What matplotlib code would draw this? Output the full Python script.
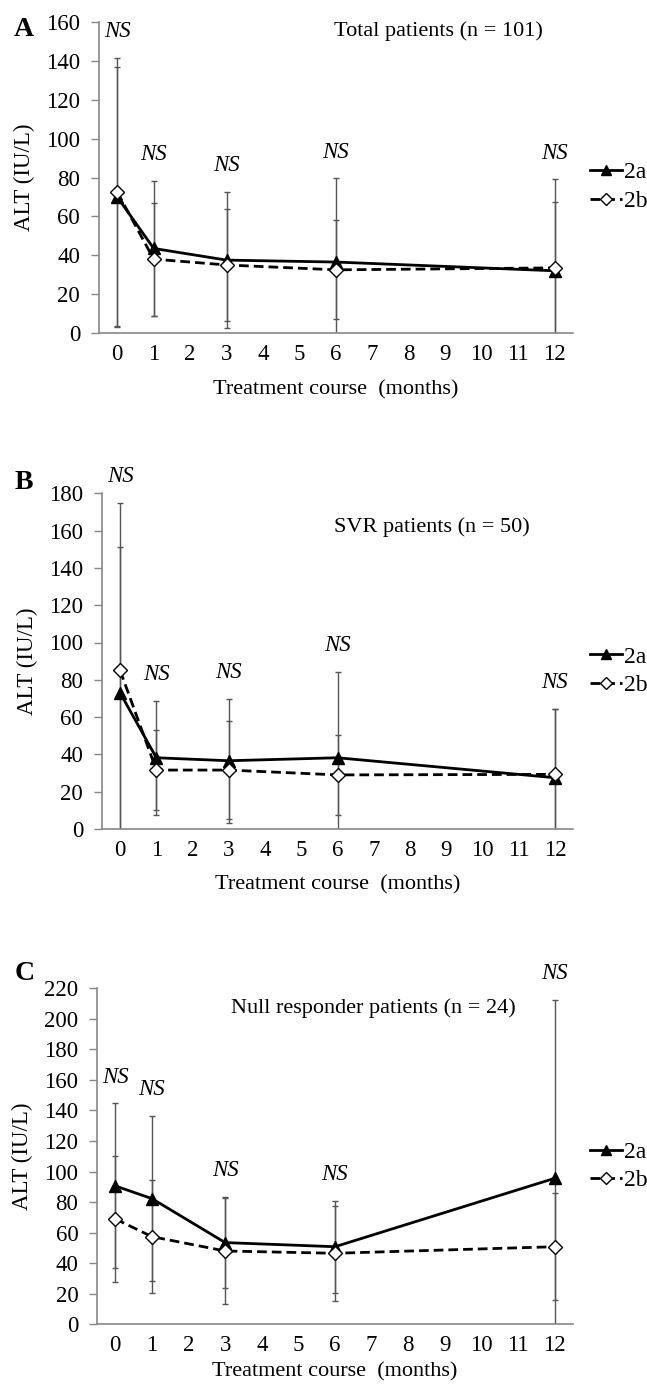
import matplotlib.pyplot as plt

plt.rcParams['font.family'] = ['Liberation Serif', 'DejaVu Serif']

# ---------- data (ALT, IU/L, mean and SD) ----------
months = [0, 1, 3, 6, 12]
x_ticks = list(range(13))

# A: total patients
a_2a = [70, 43.5, 37.5, 36.5, 32]
a_2a_sd = [67, 34.5, 35, 43, 47]
a_2b = [72.5, 38, 35, 32.5, 33.5]
a_2b_sd = [69, 29, 29, 25.5, 34]

# B: SVR patients
b_2a = [73, 38.2, 36.6, 38.2, 27.5]
b_2a_sd = [78, 30.6, 33.3, 46, 37]
b_2b = [85, 31.6, 31.6, 29, 29.3]
b_2b_sd = [90, 21.5, 26.5, 21.5, 35]

# C: null responder patients
c_2a = [90.6, 82.3, 53.5, 50.8, 95.6]
c_2a_sd = [54, 54, 30, 30, 117]
c_2b = [69, 57.4, 48, 46.5, 50.8]
c_2b_sd = [41, 37, 35, 31, 35]

panels = [
    dict(letter="A", title="Total patients (n = 101)", ymax=160,
         s2a=a_2a, e2a=a_2a_sd, s2b=a_2b, e2b=a_2b_sd,
         rect=[99/647, 1-333/1388, 474/647, 311/1388],
         title_xy=(8.8, 155.5), letter_y=1-30/1388, xlab_y=-0.151),
    dict(letter="B", title="SVR patients (n = 50)", ymax=180,
         s2a=b_2a, e2a=b_2a_sd, s2b=b_2b, e2b=b_2b_sd,
         rect=[102/647, 1-829/1388, 471/647, 335.7/1388],
         title_xy=(8.6, 162), letter_y=1-483/1388, xlab_y=-0.137),
    dict(letter="C", title="Null responder patients (n = 24)", ymax=220,
         s2a=c_2a, e2a=c_2a_sd, s2b=c_2b, e2b=c_2b_sd,
         rect=[97/647, 1-1324.3/1388, 476/647, 336/1388],
         title_xy=(7.05, 207), letter_y=1-973/1388, xlab_y=-0.113),
]

fig = plt.figure(figsize=(6.47, 13.88), dpi=100)

for p in panels:
    ax = fig.add_axes(p["rect"])

    # error bars first, behind the lines
    ax.errorbar(months, p["s2a"], yerr=p["e2a"], fmt="none", ecolor="#555555",
                elinewidth=1, capsize=2.5, capthick=1, zorder=1)
    ax.errorbar(months, p["s2b"], yerr=p["e2b"], fmt="none", ecolor="#555555",
                elinewidth=1, capsize=2.5, capthick=1, zorder=1)

    ax.plot(months, p["s2a"], color="black", lw=2, marker="^", markersize=9,
            markerfacecolor="black", label="2a", zorder=3)
    ax.plot(months, p["s2b"], color="black", lw=2, ls=(0, (3.5, 1.8)), marker="D",
            markersize=7.5, markerfacecolor="white", markeredgecolor="black",
            markeredgewidth=1, label="2b", zorder=4)

    # NS above highest bar at each time point
    for i, m in enumerate(months):
        top = max(p["s2a"][i] + p["e2a"][i], p["s2b"][i] + p["e2b"][i])
        ax.annotate("NS", (m, top), xytext=(0, 19), textcoords="offset points",
                    ha="center", va="center", fontsize=16.5, style="italic",
                    annotation_clip=False)

    ax.text(p["title_xy"][0], p["title_xy"][1], p["title"], ha="center",
            va="center", fontsize=16)

    ax.set_xlim(-0.5, 12.5)
    ax.set_ylim(0, p["ymax"])
    ax.set_xticks(x_ticks)
    ax.set_yticks(range(0, p["ymax"] + 1, 20))
    ax.tick_params(axis="x", length=0, pad=8, labelsize=16.5)
    ax.tick_params(axis="y", length=5.5, width=1, color="#888888", pad=8, labelsize=16.5)
    for side in ["top", "right"]:
        ax.spines[side].set_visible(False)
    for side in ["left", "bottom"]:
        ax.spines[side].set_color("#888888")
        ax.spines[side].set_linewidth(1.2)

    ax.set_ylabel("ALT (IU/L)", fontsize=16.5)
    ax.yaxis.set_label_coords(-0.135, 0.5)
    ax.set_xlabel("Treatment course  (months)", fontsize=16)
    ax.xaxis.set_label_coords(0.5, p["xlab_y"])

    ax.legend(loc="center left", bbox_to_anchor=(1.036, 0.47), frameon=False,
              fontsize=17, handlelength=1.35, handletextpad=0.1, borderpad=0,
              borderaxespad=0, labelspacing=0.3, numpoints=1, markerscale=0.85)

    fig.text(0.022, p["letter_y"], p["letter"], fontsize=20, fontweight="bold",
             ha="left", va="center")

fig.savefig("out.png", dpi=100)
